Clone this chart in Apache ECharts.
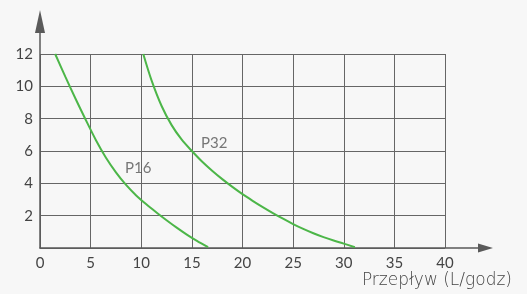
<!DOCTYPE html>
<html>
<head>
<meta charset="utf-8">
<script src="https://cdn.jsdelivr.net/npm/echarts@6/dist/echarts.min.js"></script>
<style>
html,body{margin:0;padding:0;background:#f7f7f7;}
#c{width:527px;height:294px;}
</style>
</head>
<body>
<div id="c"></div>
<script>
var p16X = [1.5, 2.5, 3.5, 4.5, 5.5, 6.5, 7.5, 8.5, 9.5, 10.5, 11.5, 12.5, 13.5, 14.5, 15.5, 16.6];
var p16Y = [12, 10.6, 9.25, 7.95, 6.7, 5.6, 4.68, 3.9, 3.25, 2.7, 2.2, 1.72, 1.26, 0.83, 0.44, 0.05];
var p32X = [10.2, 11, 12, 13, 14, 15, 16, 17, 18, 19, 20, 21, 22, 23, 24, 25, 26, 27, 28, 29, 30, 31.1];
var p32Y = [12, 10.4, 8.8, 7.6, 6.7, 6.0, 5.35, 4.78, 4.26, 3.78, 3.33, 2.92, 2.53, 2.16, 1.81, 1.48, 1.18, 0.91, 0.67, 0.46, 0.27, 0.05];
var curveNames = ['P16', 'P32'];
var labelPos = [[9.7, 4.95], [17.2, 6.5]];
var xTicks = [0, 5, 10, 15, 20, 25, 30, 35, 40];
var yTicks = [2, 4, 6, 8, 10, 12];
var xTitle = 'Przepływ (L/godz)';

function zip(a, b) { return a.map(function (v, i) { return [v, b[i]]; }); }

var FONT = 'Lato';
var chart = echarts.init(document.getElementById('c'), null, {renderer: 'canvas'});
var gridColor = '#666';
chart.setOption({
  backgroundColor: '#f7f7f7',
  animation: false,
  grid: [
    {left: 40, right: 82, top: 54, bottom: 46},
    {left: 40, right: 41.5, top: 21.5, bottom: 46}
  ],
  xAxis: [
    {
      gridIndex: 0, type: 'value', min: xTicks[0], max: xTicks[xTicks.length - 1], interval: 5,
      axisLine: {show: false}, axisTick: {show: false},
      splitLine: {show: true, lineStyle: {color: gridColor, width: 1}},
      axisLabel: {color: '#444', fontSize: 15, fontFamily: FONT, margin: 8}
    },
    {
      gridIndex: 1, type: 'value', min: 0, max: 1,
      axisLine: {show: true, symbol: ['none', 'triangle'], symbolSize: [9, 15], lineStyle: {color: '#5a5a5a', width: 1.5}},
      axisTick: {show: false}, axisLabel: {show: false}, splitLine: {show: false}
    }
  ],
  yAxis: [
    {
      gridIndex: 0, type: 'value', min: 0, max: yTicks[yTicks.length - 1], interval: 2,
      axisLine: {show: false}, axisTick: {show: false},
      splitLine: {show: true, lineStyle: {color: gridColor, width: 1}},
      axisLabel: {color: '#444', fontSize: 15, fontFamily: FONT, margin: 7, showMinLabel: false}
    },
    {
      gridIndex: 1, type: 'value', min: 0, max: 1,
      axisLine: {show: true, symbol: ['none', 'triangle'], symbolSize: [10, 23], lineStyle: {color: '#5a5a5a', width: 1.5}},
      axisTick: {show: false}, axisLabel: {show: false}, splitLine: {show: false}
    }
  ],
  graphic: [
    {type: 'text', right: 15, top: 272, style: {text: xTitle, fill: '#444', font: '300 17px "DejaVu Sans"'}}
  ],
  series: [
    {type: 'line', name: curveNames[0], xAxisIndex: 0, yAxisIndex: 0, data: zip(p16X, p16Y), smooth: 0.3, showSymbol: false,
      lineStyle: {color: '#4cb648', width: 2}},
    {type: 'line', name: curveNames[1], xAxisIndex: 0, yAxisIndex: 0, data: zip(p32X, p32Y), smooth: 0.3, showSymbol: false,
      lineStyle: {color: '#4cb648', width: 2}},
    {type: 'scatter', xAxisIndex: 0, yAxisIndex: 0, symbolSize: 0, silent: true,
      data: curveNames.map(function (n, i) { return {name: n, value: labelPos[i]}; }),
      label: {show: true, position: 'inside', formatter: '{b}', color: '#555', fontSize: 15, fontFamily: FONT}}
  ]
});
</script>
</body>
</html>
